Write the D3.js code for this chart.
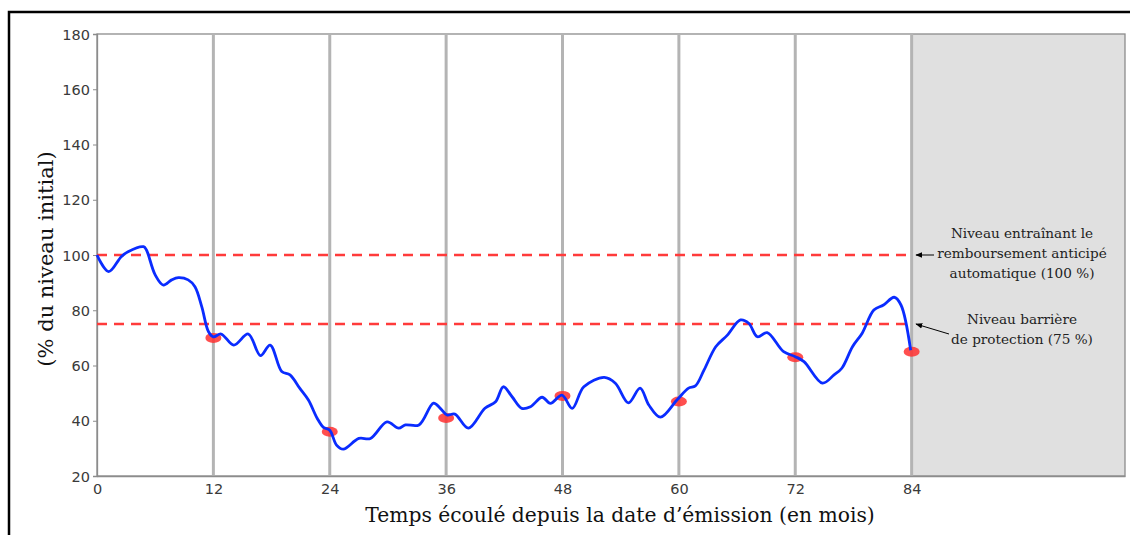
<!DOCTYPE html>
<html>
<head>
<meta charset="utf-8">
<script src="https://cdn.jsdelivr.net/npm/d3@7"></script>
<style>
  body { margin: 0; background: #fff; }
  svg { display: block; }
</style>
</head>
<body>
<script>
// Data
var months = [0, 1.2, 2.5, 3.2, 4.8, 5.1, 6.0, 6.85, 7.7, 8.4, 9.4, 10.1, 10.8, 11.5, 12.0, 12.8,
    14.1, 15.6, 16.85, 17.85, 19.05, 19.9, 20.9, 21.8, 22.7, 23.35, 24.0, 24.7, 25.4, 27.0, 28.2,
    29.9, 31.1, 31.8, 33.2, 34.7, 35.4, 36.1, 36.9, 38.3, 40.0, 41.1, 41.9, 42.8, 43.8, 44.7, 45.9,
    46.75, 47.95, 49.0, 50.2, 52.3, 53.45, 54.8, 56.0, 56.9, 58.1, 59.8, 61.0, 61.7, 62.6, 63.8,
    65.0, 66.35, 67.2, 68.1, 69.1, 70.8, 72.0, 72.9, 74.8, 76.0, 76.8, 77.9, 78.9, 80.1, 81.1,
    82.2, 82.9, 83.9];
var levels = [100, 94.0, 99.4, 101.2, 103.0, 101.8, 92.8, 89.1, 91.0, 91.8, 91.0, 88.5, 81.3, 72.2, 70.4, 71.4,
    67.4, 71.4, 63.6, 67.4, 57.8, 56.6, 51.8, 47.5, 40.9, 37.6, 36.6, 31.2, 29.7, 33.6, 33.6,
    39.6, 37.3, 38.5, 38.5, 46.4, 44.5, 42.1, 42.4, 37.3, 44.5, 46.9, 52.3, 48.7, 44.5, 45.1, 48.5,
    46.3, 49.3, 44.5, 52.3, 55.7, 53.6, 46.5, 51.8, 45.7, 41.3, 47.5, 51.8, 52.6, 58.4, 66.8,
    71.0, 76.5, 75.3, 70.4, 71.9, 65.0, 63.2, 61.4, 53.6, 56.6, 59.0, 66.8, 71.7, 80.1, 81.9,
    84.7, 81.9, 65.5];

var obsMonths = [12, 24, 36, 48, 60, 72, 84];
var obsLevels = [70, 36, 41, 49, 47, 63, 65];

var yTicks = [20, 40, 60, 80, 100, 120, 140, 160, 180];
var xTicks = [0, 12, 24, 36, 48, 60, 72, 84];

var callLevel = 100;
var barrierLevel = 75;
var callText = ['Niveau entraînant le', 'remboursement anticipé', 'automatique (100 %)'];
var barrierText = ['Niveau barrière', 'de protection (75 %)'];

// Layout
var width = 1130;
var height = 535;
var plotLeft = 97, plotRight = 1125, plotTop = 34, plotBottom = 476;
var serif = '"DejaVu Serif", serif';

var svg = d3.select('body').append('svg')
    .attr('width', width)
    .attr('height', height);

var x = d3.scaleLinear().domain([0, 106]).range([plotLeft, plotRight]);
var y = d3.scaleLinear().domain([20, 180]).range([plotBottom, plotTop]);

// outer frame
svg.append('rect')
    .attr('x', 9).attr('y', 12)
    .attr('width', width).attr('height', height)
    .attr('fill', 'none')
    .attr('stroke', '#000')
    .attr('stroke-width', 2.5);

// grey zone after maturity
svg.append('rect')
    .attr('x', x(84)).attr('y', plotTop)
    .attr('width', plotRight - x(84)).attr('height', plotBottom - plotTop)
    .attr('fill', '#e0e0e0');

// plot border
svg.append('rect')
    .attr('x', plotLeft).attr('y', plotTop)
    .attr('width', plotRight - plotLeft).attr('height', plotBottom - plotTop)
    .attr('fill', 'none')
    .attr('stroke', '#8c8c8c')
    .attr('stroke-width', 1.3);

// observation date lines
svg.selectAll('.vline')
    .data(xTicks.slice(1))
    .enter().append('line')
    .attr('class', 'vline')
    .attr('x1', function(d) { return x(d); })
    .attr('x2', function(d) { return x(d); })
    .attr('y1', plotTop).attr('y2', plotBottom)
    .attr('stroke', '#b4b4b4')
    .attr('stroke-width', 3);

// axes
var yAxis = d3.axisLeft(y).tickValues(yTicks).tickSize(4).tickPadding(3);
var gy = svg.append('g').attr('transform', 'translate(' + plotLeft + ',0)').call(yAxis);
var xAxis = d3.axisBottom(x).tickValues(xTicks).tickSize(0).tickPadding(8);
var gx = svg.append('g').attr('transform', 'translate(0,' + plotBottom + ')').call(xAxis);

[gx, gy].forEach(function(g) {
    g.select('.domain').attr('stroke', '#8c8c8c').attr('stroke-width', 1.3);
    g.selectAll('.tick line').attr('stroke', '#8c8c8c');
    g.selectAll('.tick text')
        .attr('fill', '#3a3a3a')
        .style('font-family', '"DejaVu Sans", sans-serif')
        .style('font-size', '14.5px');
});
gy.selectAll('.tick text').attr('dy', '0.36em');

// threshold lines
svg.selectAll('.hline')
    .data([callLevel, barrierLevel])
    .enter().append('line')
    .attr('class', 'hline')
    .attr('x1', x(0)).attr('x2', x(84))
    .attr('y1', function(d) { return y(d); })
    .attr('y2', function(d) { return y(d); })
    .attr('stroke', '#ff3b3b')
    .attr('stroke-width', 2.6)
    .attr('stroke-dasharray', '10,7');

// observation dots
svg.selectAll('.obs')
    .data(obsMonths)
    .enter().append('ellipse')
    .attr('class', 'obs')
    .attr('cx', function(d) { return x(d); })
    .attr('cy', function(d, i) { return y(obsLevels[i]); })
    .attr('rx', 8).attr('ry', 5)
    .attr('fill', '#ff3030')
    .attr('opacity', 0.85);

// underlying path
var line = d3.line()
    .x(function(d) { return x(d[0]); })
    .y(function(d) { return y(d[1]); })
    .curve(d3.curveCatmullRom.alpha(0.5));

svg.append('path')
    .datum(months.map(function(m, i) { return [m, levels[i]]; }))
    .attr('d', line)
    .attr('fill', 'none')
    .attr('stroke', '#0a2cff')
    .attr('stroke-width', 2.8)
    .attr('stroke-linejoin', 'round');

// axis titles
svg.append('text')
    .attr('x', 620)
    .attr('y', 522)
    .attr('text-anchor', 'middle')
    .style('font-family', serif)
    .style('font-size', '20.3px')
    .attr('fill', '#111')
    .text('Temps écoulé depuis la date d’émission (en mois)');

svg.append('text')
    .attr('transform', 'translate(53,259) rotate(-90)')
    .attr('text-anchor', 'middle')
    .style('font-family', serif)
    .style('font-size', '21px')
    .attr('fill', '#111')
    .text('(% du niveau initial)');

// annotations
svg.append('defs').append('marker')
    .attr('id', 'arrow')
    .attr('viewBox', '0 0 10 10')
    .attr('refX', 9).attr('refY', 5)
    .attr('markerWidth', 7).attr('markerHeight', 7)
    .attr('orient', 'auto')
    .append('path')
    .attr('d', 'M0,1 L10,5 L0,9 Z')
    .attr('fill', '#000');

svg.append('line')
    .attr('x1', 934).attr('y1', y(callLevel))
    .attr('x2', 916).attr('y2', y(callLevel))
    .attr('stroke', '#000').attr('stroke-width', 1)
    .attr('marker-end', 'url(#arrow)');

svg.append('line')
    .attr('x1', 949).attr('y1', 334)
    .attr('x2', 916).attr('y2', y(barrierLevel))
    .attr('stroke', '#000').attr('stroke-width', 1)
    .attr('marker-end', 'url(#arrow)');

function addNote(lines, y0) {
    svg.append('text')
        .attr('text-anchor', 'middle')
        .style('font-family', serif)
        .style('font-size', '13.6px')
        .attr('fill', '#222')
        .selectAll('tspan')
        .data(lines)
        .enter().append('tspan')
        .attr('x', 1022)
        .attr('y', function(d, i) { return y0 + i * 20; })
        .text(function(d) { return d; });
}
addNote(callText, 238);
addNote(barrierText, 324);
</script>
</body>
</html>
